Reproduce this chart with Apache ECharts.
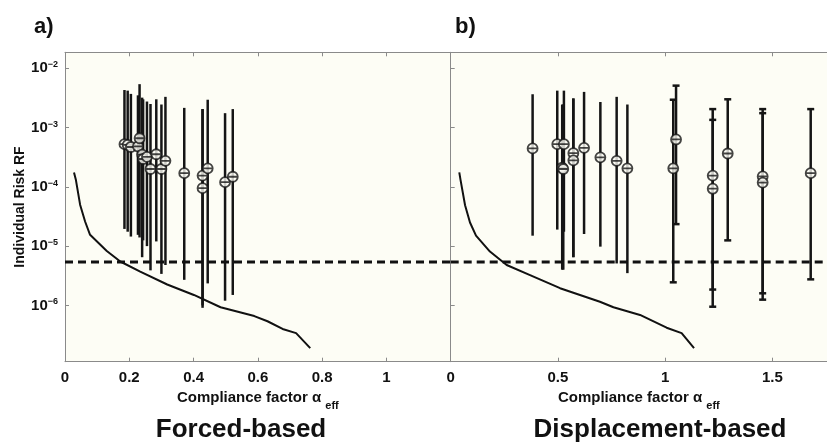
<!DOCTYPE html>
<html><head><meta charset="utf-8">
<script src="https://cdn.jsdelivr.net/npm/echarts@6/dist/echarts.min.js"></script>
<style>html,body{margin:0;padding:0;background:#fff}#c{width:827px;height:448px}</style>
</head><body><div id="c"></div>
<script>
// ---------- data (panel a: force-based) ----------
const aX     = [0.185,0.195,0.205,0.227,0.232,0.240,0.243,0.255,0.266,0.284,0.300,0.3125,0.371,0.428,0.428,0.444,0.498,0.522];
const aMid   = [5.25e-4,5.1e-4,4.7e-4,4.8e-4,6.6e-4,3.5e-4,2.95e-4,3.2e-4,2.0e-4,3.55e-4,2.0e-4,2.75e-4,1.7e-4,1.55e-4,9.5e-5,2.05e-4,1.2e-4,1.48e-4];
const aUp    = [4.3e-3,4.2e-3,3.7e-3,3.5e-3,5.4e-3,3.2e-3,3.0e-3,2.75e-3,2.5e-3,3.0e-3,2.45e-3,3.3e-3,2.15e-3,2.05e-3,2.05e-3,2.95e-3,1.75e-3,2.05e-3];
const aLo    = [1.95e-5,1.75e-5,1.45e-5,1.55e-5,1.4e-5,6.5e-6,1.25e-5,1.0e-5,3.9e-6,1.2e-5,3.4e-6,4.8e-6,2.7e-6,9.1e-7,1.0e-6,2.35e-6,1.2e-6,1.5e-6];
const aCurveX = [0.028,0.034,0.047,0.0625,0.078,0.13,0.172,0.234,0.318,0.401,0.484,0.589,0.63,0.677,0.719,0.763];
const aCurveY = [1.75e-4,1.3e-4,5.0e-5,2.6e-5,1.55e-5,8.3e-6,5.5e-6,3.7e-6,2.25e-6,1.5e-6,9.3e-7,6.6e-7,5.4e-7,4.0e-7,3.4e-7,1.9e-7];
// ---------- data (panel b: displacement-based) ----------
const bX     = [0.382,0.497,0.528,0.520,0.525,0.572,0.572,0.622,0.698,0.774,0.824,1.038,1.051,1.222,1.222,1.292,1.455,1.455,1.679];
const bMid   = [4.45e-4,5.25e-4,5.25e-4,2.1e-4,2.0e-4,3.7e-4,2.8e-4,4.55e-4,3.15e-4,2.75e-4,2.05e-4,2.05e-4,6.3e-4,1.55e-4,9.3e-5,3.65e-4,1.5e-4,1.18e-4,1.7e-4];
const bUp    = [3.65e-3,4.2e-3,4.2e-3,2.45e-3,2.45e-3,3.1e-3,3.1e-3,4.0e-3,2.7e-3,3.3e-3,2.45e-3,2.95e-3,5.1e-3,2.05e-3,1.35e-3,3.0e-3,2.05e-3,1.75e-3,2.05e-3];
const bLo    = [1.5e-5,1.9e-5,1.75e-5,4.0e-6,4.0e-6,6.5e-6,6.5e-6,1.6e-5,9.8e-6,5.1e-6,3.5e-6,2.45e-6,2.35e-5,1.85e-6,9.5e-7,1.25e-5,1.6e-6,1.25e-6,2.75e-6];
const bCurveX = [0.04,0.046,0.067,0.09,0.118,0.183,0.261,0.37,0.51,0.696,0.759,0.883,1.007,1.077,1.135];
const bCurveY = [1.75e-4,1.3e-4,4.9e-5,2.5e-5,1.5e-5,8.1e-6,4.8e-6,3.25e-6,1.95e-6,1.15e-6,9.3e-7,6.9e-7,4.2e-7,3.4e-7,1.9e-7];
const threshold = 5.4e-6;
const yTicks = [-6,-5,-4,-3,-2];
const aXTicks = [0,0.2,0.4,0.6,0.8,1];
const bXTicks = [0,0.5,1,1.5];
const panelTitles = ['a)','b)'];
const bottomLabels = ['Forced-based','Displacement-based'];
const yName = 'Individual Risk RF';

// ---------- build ----------
const L = v => Math.log10(v);
const FONT = '"Liberation Sans Narrow","Liberation Sans",Arial,sans-serif';
const AX = '#8a8a8a';
const BG = '#fdfdf5';
const GT = 52.3, GH = 309.4;
const grids = [
  {left:65, top:GT, width:385.7, height:GH, show:true, backgroundColor:BG, borderWidth:0},
  {left:450.7, top:GT, width:376.3, height:GH, show:true, backgroundColor:BG, borderWidth:0}
];
const xMax = [1.2, 1.755];
const xInt = [0.2, 0.5];
const xTickSets = [aXTicks, bXTicks];
function near(v, arr){ return arr.some(t => Math.abs(t - v) < 1e-6); }
function fmtX(v, i){
  if (!near(v, xTickSets[i])) return '';
  return String(Math.round(v*10)/10);
}
const xName = '{n|Compliance factor α }{s|eff}';
const xNameRich = {
  n:{fontFamily:FONT, fontWeight:'bold', fontSize:15, color:'#111', lineHeight:16, verticalAlign:'top'},
  s:{fontFamily:FONT, fontWeight:'bold', fontSize:11, color:'#111', lineHeight:10, padding:[10,0,0,0], verticalAlign:'top'}
};
const xAxes = [];
[0,1].forEach(i => {
  xAxes.push({
    type:'value', gridIndex:i, min:0, max:xMax[i], interval:xInt[i], position:'bottom',
    axisLine:{show:true, onZero:false, lineStyle:{color:AX, width:1}},
    axisTick:{show:true, inside:true, length:4, lineStyle:{color:AX}},
    splitLine:{show:false},
    axisLabel:{show:true, margin:9, fontFamily:FONT, fontWeight:'bold', fontSize:15, color:'#111',
      showMaxLabel:false, formatter:v => fmtX(v,i)},
    name:xName, nameLocation:'middle', nameGap:28,
    nameTextStyle:{rich:xNameRich}
  });
});
[0,1].forEach(i => {
  xAxes.push({
    type:'value', gridIndex:i, min:0, max:xMax[i], interval:xInt[i], position:'top',
    axisLine:{show:true, onZero:false, lineStyle:{color:AX, width:1}},
    axisTick:{show:true, inside:true, length:4, lineStyle:{color:AX}},
    splitLine:{show:false}, axisLabel:{show:false}
  });
});
function fmtY(v){
  const r = Math.round(v);
  if (Math.abs(v - r) > 1e-6 || !yTicks.includes(r)) return '';
  return '{b|10}{s|−' + (-r) + '}';
}
const yAxes = [0,1].map(i => ({
  type:'value', gridIndex:i, min:-6.95, max:-1.73, minInterval:1, maxInterval:1, splitNumber:5,
  axisLine:{show:true, onZero:false, lineStyle:{color:AX, width:1}},
  axisTick:{show:true, inside:true, length:4, lineStyle:{color:AX}},
  splitLine:{show:false},
  axisLabel:{show:i===0, margin:7, formatter:fmtY, rich:{
    b:{fontFamily:FONT, fontWeight:'bold', fontSize:15, color:'#111', lineHeight:16},
    s:{fontFamily:FONT, fontWeight:'bold', fontSize:9, color:'#111', lineHeight:10, verticalAlign:'top'}
  }},
  name: i===0 ? yName : '', nameLocation:'middle', nameGap:38,
  nameTextStyle:{fontFamily:FONT, fontWeight:'bold', fontSize:14, color:'#111'}
}));

function errSeries(i, xs, lo, up, capMin){
  return {
    type:'custom', xAxisIndex:i, yAxisIndex:i, z:3,
    data: xs.map((x,k) => [x, L(lo[k]), L(up[k])]),
    encode:{x:0, y:[1,2]},
    renderItem:(params, api) => {
      const x = api.value(0);
      const p0 = api.coord([x, api.value(1)]);
      const p1 = api.coord([x, api.value(2)]);
      const st = {stroke:'#151515', lineWidth:2.5};
      const ch = [{type:'line', shape:{x1:p0[0], y1:p0[1], x2:p1[0], y2:p1[1]}, style:st}];
      if (x > capMin) {
        ch.push({type:'line', shape:{x1:p0[0]-3.5, y1:p0[1], x2:p0[0]+3.5, y2:p0[1]}, style:st});
        ch.push({type:'line', shape:{x1:p1[0]-3.5, y1:p1[1], x2:p1[0]+3.5, y2:p1[1]}, style:st});
      }
      return {type:'group', children:ch};
    }
  };
}
const circleSym = 'path://M0,5 A5,5 0 1 1 10,5 A5,5 0 1 1 0,5 Z M0,5 L10,5';
function ptSeries(i, xs, ys){
  return {type:'scatter', xAxisIndex:i, yAxisIndex:i, z:4, symbol:circleSym, symbolSize:10,
    itemStyle:{color:BG, borderColor:'#151515', borderWidth:1.8},
    data: xs.map((x,k) => [x, L(ys[k])])};
}
function curveSeries(i, xs, ys){
  return {type:'line', xAxisIndex:i, yAxisIndex:i, z:3, showSymbol:false, symbol:'none',
    lineStyle:{color:'#111', width:2}, data: xs.map((x,k) => [x, L(ys[k])])};
}
function dashSeries(i){
  return {type:'line', xAxisIndex:i, yAxisIndex:i, z:5, showSymbol:false, symbol:'none',
    lineStyle:{color:'#111', width:3, type:[8,5]}, data:[[0, L(threshold)], [xMax[i], L(threshold)]]};
}

const option = {
  backgroundColor:'#fff',
  animation:false,
  grid:grids,
  xAxis:xAxes,
  yAxis:yAxes,
  title:[
    {text:panelTitles[0], left:29, top:11, textStyle:{fontFamily:'"Liberation Sans",Arial,sans-serif', fontWeight:'bold', fontSize:22, color:'#111'}},
    {text:panelTitles[1], left:450, top:11, textStyle:{fontFamily:'"Liberation Sans",Arial,sans-serif', fontWeight:'bold', fontSize:22, color:'#111'}}
  ],
  graphic:[
    {type:'text', x:241, y:430, style:{text:bottomLabels[0], x:0, y:0, align:'center', verticalAlign:'middle', font:'bold 26px ' + FONT, fill:'#111'}},
    {type:'text', x:660, y:430, style:{text:bottomLabels[1], x:0, y:0, align:'center', verticalAlign:'middle', font:'bold 26px ' + FONT, fill:'#111'}}
  ],
  series:[
    errSeries(0, aX, aLo, aUp, 99),
    ptSeries(0, aX, aMid),
    curveSeries(0, aCurveX, aCurveY),
    dashSeries(0),
    errSeries(1, bX, bLo, bUp, 1.0),
    ptSeries(1, bX, bMid),
    curveSeries(1, bCurveX, bCurveY),
    dashSeries(1)
  ]
};
const chart = echarts.init(document.getElementById('c'), null, {renderer:'canvas'});
chart.setOption(option);
</script>
</body></html>
